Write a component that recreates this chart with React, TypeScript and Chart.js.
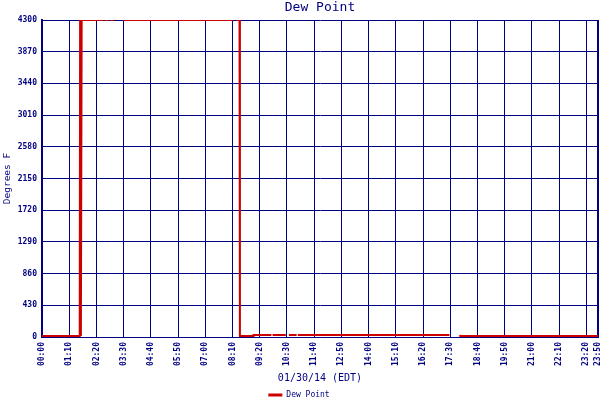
import React, { useEffect, useRef } from "react";
import { Chart, registerables } from "chart.js";

Chart.register(...registerables);

const chartTitle = "Dew Point";
const xAxisTitle = "01/30/14 (EDT)";
const yAxisTitle = "Degrees F";
const seriesName = "Dew Point";

const xTickLabels = [
  "00:00", "01:10", "02:20", "03:30", "04:40", "05:50", "07:00", "08:10",
  "09:20", "10:30", "11:40", "12:50", "14:00", "15:10", "16:20", "17:30",
  "18:40", "19:50", "21:00", "22:10", "23:20", "23:50",
];
const yTickValues = [0, 430, 860, 1290, 1720, 2150, 2580, 3010, 3440, 3870, 4300];

// minutes since midnight
const dewMinutes = [
  0, 97, 98, 100, 102, 157, 159, 162, 172, 174, 177, 185, 196, 208, 491, 495,
  500, 508, 509, 543, 544, 590, 591, 593, 627, 630, 635, 655, 656, 658, 1048,
  1060, 1074, 1076, 1430,
];
const dewValues: (number | null)[] = [
  12, 12, 4300, 12, 4300, 4300, null, 4300, 4300, null, 4300, 4300, null, 4300, 4300, null,
  4300, 4300, 12, 12, 26, 26, null, 26, 26, null, 26, 26, null, 26, 26,
  null, 26, 12, 12,
];

const NAVY = "#000080";
const RED = "#cc0000";
const MONO = "'DejaVu Sans Mono', monospace";

const xTickMinutes = xTickLabels.map((s) => {
  const [h, m] = s.split(":").map(Number);
  return h * 60 + m;
});

export default function App() {
  const ref = useRef<HTMLCanvasElement | null>(null);

  useEffect(() => {
    if (!ref.current) return;
    const points = dewMinutes.map((m, i) => ({ x: m, y: dewValues[i] }));
    const chart = new Chart(ref.current, {
      type: "line",
      data: {
        datasets: [
          {
            label: seriesName,
            data: points as any,
            borderColor: RED,
            backgroundColor: RED,
            borderWidth: 2,
            pointRadius: 0,
            tension: 0,
            spanGaps: false,
          },
        ],
      },
      options: {
        responsive: false,
        animation: false,
        layout: { padding: { top: 0, left: 0, right: 2, bottom: -9 } },
        plugins: {
          title: {
            display: true,
            fullSize: false,
            text: chartTitle,
            color: NAVY,
            font: { family: MONO, size: 13, weight: "normal" },
            padding: { top: 0, bottom: 4.4 },
          },
          legend: {
            display: true,
            position: "bottom",
            labels: {
              color: NAVY,
              font: { family: MONO, size: 8 },
              boxWidth: 14,
              boxHeight: 3,
              padding: 2,
              generateLabels: (c: any) =>
                Chart.defaults.plugins.legend.labels
                  .generateLabels(c)
                  .map((l: any) => ({ ...l, lineWidth: 0, fillStyle: RED })),
            },
          },
          tooltip: { enabled: false },
        },
        scales: {
          x: {
            type: "linear",
            min: 0,
            max: 1430,
            afterBuildTicks: (scale: any) => {
              scale.ticks = xTickMinutes.map((v) => ({ value: v }));
            },
            afterFit: (scale: any) => {
              scale.height = 52;
              scale.paddingLeft = 0;
              scale.paddingRight = 0;
            },
            ticks: {
              autoSkip: false,
              minRotation: 90,
              maxRotation: 90,
              padding: 5,
              color: NAVY,
              font: { family: MONO, size: 8, weight: "bold" },
              callback: (_v: any, i: number) => xTickLabels[i],
            },
            grid: {
              color: NAVY,
              lineWidth: (ctx: any) => (ctx.index === xTickMinutes.length - 1 ? 2 : 1),
              drawTicks: false,
            },
            border: { color: NAVY, width: 1 },
            title: {
              display: true,
              text: xAxisTitle,
              color: NAVY,
              font: { family: MONO, size: 10 },
              padding: { top: 0, bottom: 5 },
            },
          },
          y: {
            type: "linear",
            min: 0,
            max: 4300,
            afterBuildTicks: (scale: any) => {
              scale.ticks = yTickValues.map((v) => ({ value: v }));
            },
            afterFit: (scale: any) => {
              scale.width = 42;
            },
            ticks: {
              padding: 5,
              color: NAVY,
              font: { family: MONO, size: 8, weight: "bold" },
              callback: (v: any) => String(v),
            },
            grid: { color: NAVY, lineWidth: 1, drawTicks: false },
            border: { color: NAVY, width: 2 },
            title: {
              display: true,
              text: yAxisTitle,
              color: NAVY,
              font: { family: MONO, size: 9.5 },
              padding: { top: 2, bottom: 0 },
            },
          },
        },
      },
    });
    return () => chart.destroy();
  }, []);

  return (
    <div style={{ position: "fixed", left: 0, top: 0, width: 600, height: 400, background: "#fff" }}>
      <canvas ref={ref} width={600} height={400} style={{ width: 600, height: 400, display: "block" }} />
    </div>
  );
}
